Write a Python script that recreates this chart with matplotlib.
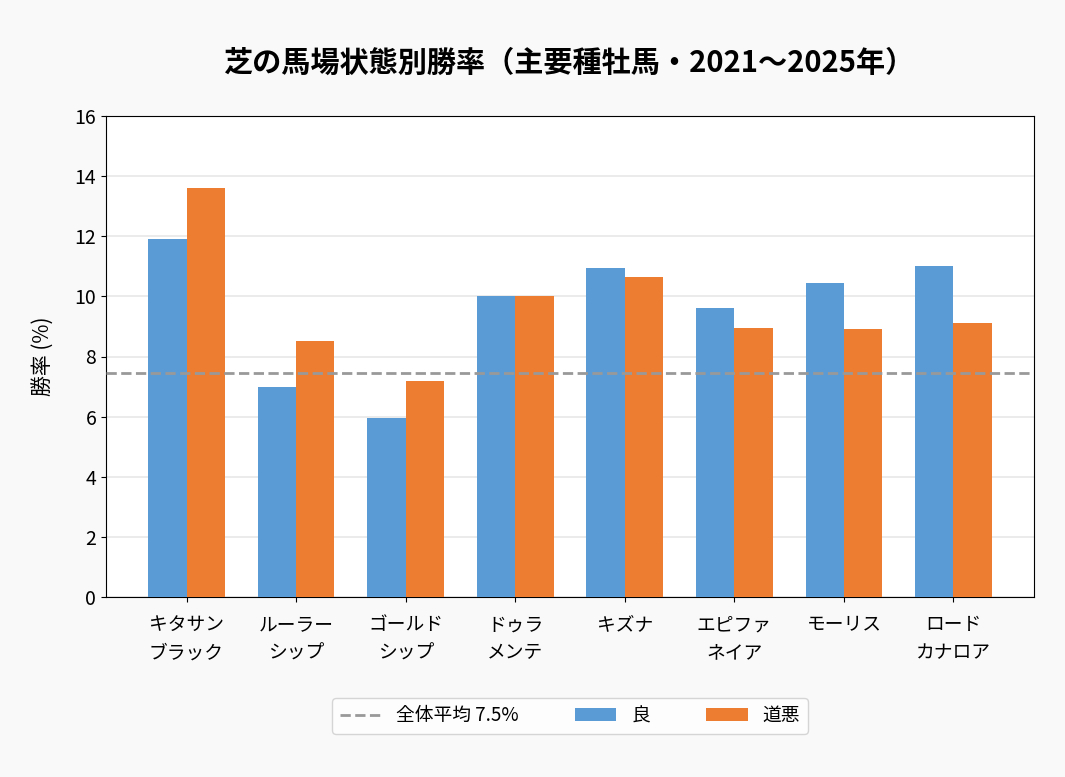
import matplotlib.pyplot as plt
import numpy as np

plt.rcParams['font.family'] = ['Noto Sans CJK JP', 'DejaVu Sans']

sires = ["キタサン\nブラック", "ルーラー\nシップ", "ゴールド\nシップ", "ドゥラ\nメンテ",
         "キズナ", "エピファ\nネイア", "モーリス", "ロード\nカナロア"]
good = [11.9, 7.0, 5.95, 10.0, 10.95, 9.6, 10.45, 11.0]
heavy = [13.6, 8.5, 7.2, 10.0, 10.65, 8.95, 8.9, 9.1]
overall_avg = 7.46

BLUE = "#5b9bd5"
ORANGE = "#ed7d31"

fig = plt.figure(figsize=(10.65, 7.77), dpi=100, facecolor="#f9f9f9")
ax = fig.add_axes([106 / 1065, 1 - 597 / 777, 928 / 1065, 481 / 777])
ax.set_facecolor("white")

x = np.arange(len(sires))
w = 0.35
ax.bar(x - w / 2, good, w, color=BLUE, label="良", zorder=3)
ax.bar(x + w / 2, heavy, w, color=ORANGE, label="道悪", zorder=3)
ax.axhline(overall_avg, color="#999999", linestyle="--", linewidth=2,
           label=f"全体平均 {overall_avg:.1f}%", zorder=4)

ax.set_ylim(0, 16)
ax.set_yticks(range(0, 17, 2))
ax.set_xticks(x)
ax.set_xticklabels(sires, fontsize=13.5, linespacing=1.45)
ax.tick_params(axis="x", pad=9)
ax.tick_params(axis="y", labelsize=14)
ax.set_ylabel("勝率 (%)", fontsize=15, labelpad=14)
ax.yaxis.grid(True, color="#e8e8e8", linewidth=1.2, zorder=0)
ax.set_axisbelow(True)

ax.set_title("芝の馬場状態別勝率（主要種牡馬・2021〜2025年）", fontsize=21,
             fontweight="bold", pad=32)

ax.legend(loc="upper center", bbox_to_anchor=(0.5, -0.19), ncol=3,
          fontsize=13.5, frameon=True, edgecolor="#cccccc", handlelength=2.2,
          columnspacing=3.0)

fig.savefig("out.png", dpi=100, facecolor=fig.get_facecolor())
